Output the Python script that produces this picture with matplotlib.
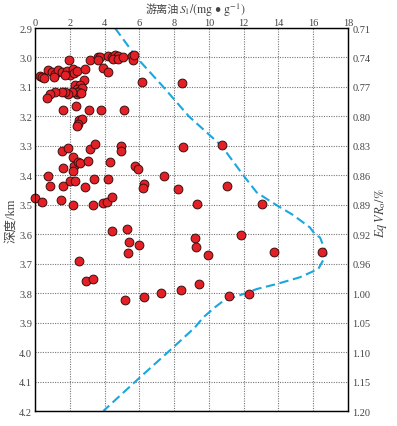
import matplotlib
matplotlib.use("Agg")
import matplotlib.pyplot as plt

plt.rcParams['mathtext.fontset'] = 'stix'
SERIF = ['Liberation Serif', 'Noto Sans CJK SC']
GRAY = '#444444'

# Free oil S1 (mg/g) and depth (km) of samples
s1 = [1.97, 3.16, 3.6, 3.74, 3.64, 4.2, 4.45, 4.6, 4.75, 4.5, 4.8, 5.08, 5.56, 5.65, 5.7,
      3.89, 4.21, 6.17, 8.43,
      0.29, 0.38, 0.5, 0.77, 0.95, 1.15, 1.34, 1.53, 1.82, 2.0, 2.16, 2.24, 2.43, 2.87, 2.82, 1.1, 1.7,
      2.3, 2.59, 2.43, 2.55, 2.68, 2.39, 2.49, 2.62, 2.11, 1.92, 1.72, 1.53, 1.15, 0.86, 0.71,
      1.59, 2.36, 3.12, 3.77, 5.13, 2.55, 2.68, 2.49, 2.43,
      1.53, 1.92, 2.16, 2.24, 1.63, 2.49, 2.58, 2.16, 3.16, 3.45, 3.07, 4.31, 4.92, 4.92, 5.75, 5.94,
      8.49, 10.78,
      0.77, 0.86, 1.59, 2.01, 2.3, 2.87, 3.39, 4.18, 6.26, 6.19, 7.41, 8.24, 11.07,
      0.0, 0.42, 1.48, 2.2, 3.35, 3.89, 4.12, 4.44, 9.29, 13.07,
      4.41, 5.27, 5.38, 5.99, 5.36, 9.2, 9.26, 9.97, 11.84, 13.74, 16.48, 2.55,
      2.91, 3.31, 5.17, 6.26, 7.22, 8.37, 9.44, 11.17, 12.28]
depth = [3.008, 3.01, 3.0, 3.0, 3.01, 2.996, 2.998, 2.993, 2.995, 3.005, 3.004, 2.998, 2.996, 3.008, 2.992,
         3.037, 3.05, 3.082, 3.085,
         3.062, 3.068, 3.07, 3.042, 3.05, 3.055, 3.042, 3.048, 3.045, 3.058, 3.04, 3.052, 3.046, 3.04, 3.077, 3.065, 3.06,
         3.093, 3.093, 3.107, 3.113, 3.105, 3.124, 3.118, 3.12, 3.116, 3.124, 3.116, 3.116, 3.116, 3.124, 3.139,
         3.178, 3.164, 3.177, 3.178, 3.177, 3.211, 3.208, 3.226, 3.232,
         3.317, 3.308, 3.338, 3.368, 3.376, 3.356, 3.358, 3.387, 3.311, 3.293, 3.35, 3.355, 3.3, 3.316, 3.367, 3.379,
         3.305, 3.297,
         3.404, 3.436, 3.436, 3.421, 3.421, 3.438, 3.413, 3.413, 3.43, 3.444, 3.404, 3.446, 3.436,
         3.477, 3.489, 3.483, 3.5, 3.5, 3.494, 3.489, 3.475, 3.499, 3.499,
         3.59, 3.582, 3.628, 3.638, 3.664, 3.614, 3.645, 3.672, 3.602, 3.661, 3.66, 3.692,
         3.76, 3.751, 3.822, 3.813, 3.8, 3.788, 3.77, 3.809, 3.803]

# Equivalent vitrinite reflectance curve (plotted in S1 axis units)
curve_x = [4.6, 5.84, 7.38, 8.85, 10.73, 11.98, 12.75, 13.32, 13.94, 14.85, 15.81, 16.1, 16.39, 16.77,
           16.29, 15.24, 13.9, 12.75, 11.98, 10.83, 10.35, 9.68, 9.2, 7.95, 5.94, 3.93]
curve_depth = [2.9, 3.0, 3.1, 3.2, 3.3, 3.4, 3.458, 3.48, 3.503, 3.535, 3.577, 3.6, 3.611, 3.667,
               3.718, 3.746, 3.769, 3.786, 3.803, 3.826, 3.848, 3.882, 3.916, 3.984, 4.091, 4.2]

x_ticks = [0, 2, 4, 6, 8, 10, 12, 14, 16, 18]
y_ticks = [2.9, 3.0, 3.1, 3.2, 3.3, 3.4, 3.5, 3.6, 3.7, 3.8, 3.9, 4.0, 4.1, 4.2]
vro_labels = ['0.71', '0.74', '0.77', '0.80', '0.83', '0.86', '0.89', '0.92', '0.96',
              '1.00', '1.05', '1.10', '1.15', '1.20']

fig = plt.figure(figsize=(3.97, 4.27), dpi=100)
ax = fig.add_axes([35/397, 1-412/427, 313/397, 383/427])

ax.plot(curve_x, curve_depth, color='#1aa7e0', lw=1.5, ls=(0, (4.5, 2.2)), zorder=2)
ax.scatter(s1, depth, s=40, color='#e41f26', edgecolor='#3a1010', linewidth=0.7, zorder=3, clip_on=False)

ax.set_xlim(0, 18)
ax.set_ylim(4.2, 2.9)
ax.set_xticks(x_ticks)
ax.set_yticks(y_ticks)
ax.set_yticklabels([f'{v:.1f}' for v in y_ticks], family=SERIF, fontsize=7.5, color=GRAY)
ax.set_xticklabels([str(v) for v in x_ticks], family=SERIF, fontsize=7.5, color=GRAY)
ax.xaxis.tick_top()
ax.tick_params(axis='x', direction='in', length=0, pad=1)
ax.tick_params(axis='y', direction='in', length=0, pad=2)
ax.grid(True, color='#777777', ls=(0, (1, 1.2)), lw=0.8)
for sp in ax.spines.values():
    sp.set_linewidth(1.0)
    sp.set_color('#222222')

ax2 = ax.twinx()
ax2.set_ylim(4.2, 2.9)
ax2.set_yticks(y_ticks)
ax2.set_yticklabels(vro_labels, family=SERIF, fontsize=7.5, color=GRAY)
ax2.tick_params(axis='y', direction='in', length=0, pad=3)

# Labels
ax.set_ylabel('深度/km', family=SERIF, fontsize=9, color=GRAY)
ax.yaxis.set_label_coords(-18/313, 0.5)
fig.text(179/397, 1-10/427, '游离油', family=SERIF, fontsize=8, color=GRAY, ha='right', va='center')
fig.text(179/397, 1-10/427, r'$S_{\mathrm{1}}$/(mg • g$^{\mathrm{-1}}$)', family='STIXGeneral',
         fontsize=8.5, color=GRAY, ha='left', va='center')
fig.text(381/397, 0.5, r'$Eq\,VR_{\mathrm{o}}$/%', family='STIXGeneral', fontsize=9, color=GRAY,
         rotation=90, ha='center', va='center')

fig.savefig('out.png', dpi=100)
